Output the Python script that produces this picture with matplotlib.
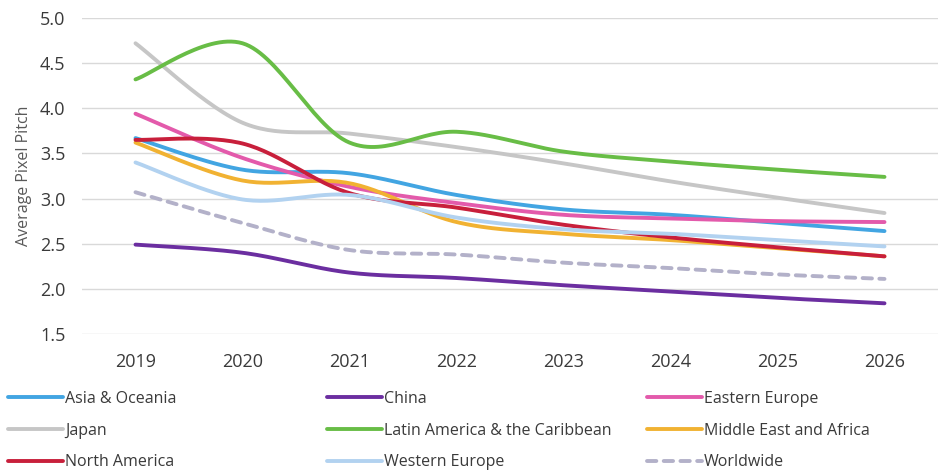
import numpy as np
import matplotlib
matplotlib.use("Agg")
from matplotlib import pyplot as plt

# Average pixel pitch by region, 2019-2026
years = ["2019", "2020", "2021", "2022", "2023", "2024", "2025", "2026"]

asia_oceania = [3.67, 3.32, 3.28, 3.04, 2.88, 2.82, 2.73, 2.64]
china = [2.49, 2.40, 2.18, 2.12, 2.04, 1.97, 1.90, 1.84]
eastern_europe = [3.94, 3.45, 3.13, 2.95, 2.82, 2.78, 2.75, 2.74]
japan = [4.72, 3.84, 3.72, 3.57, 3.39, 3.19, 3.01, 2.84]
latin_america = [4.32, 4.72, 3.62, 3.74, 3.52, 3.41, 3.32, 3.24]
middle_east_africa = [3.62, 3.20, 3.17, 2.74, 2.61, 2.54, 2.45, 2.36]
north_america = [3.65, 3.61, 3.06, 2.90, 2.71, 2.57, 2.46, 2.36]
western_europe = [3.40, 2.99, 3.04, 2.79, 2.66, 2.61, 2.54, 2.47]
worldwide = [3.07, 2.73, 2.43, 2.38, 2.29, 2.23, 2.16, 2.11]

SERIES = [
    ("Asia & Oceania", asia_oceania, "#42a5e2", "-"),
    ("China", china, "#6b2ea0", "-"),
    ("Eastern Europe", eastern_europe, "#e35aab", "-"),
    ("Japan", japan, "#c6c6c6", "-"),
    ("Latin America & the Caribbean", latin_america, "#68bd46", "-"),
    ("Middle East and Africa", middle_east_africa, "#f1b232", "-"),
    ("North America", north_america, "#c81f3b", "-"),
    ("Western Europe", western_europe, "#b2d2f0", "-"),
    ("Worldwide", worldwide, "#b3b1c9", "--"),
]

TEXT_COLOR = "#3a3a3a"
GRID_COLOR = "#d9d9d9"
LW = 2.8

plt.rcParams["font.family"] = ["Open Sans", "DejaVu Sans"]


def smooth(x, y, steps=30):
    """ Catmull-Rom curve through every point, like a spreadsheet's
    'smoothed line' option. """
    x = np.asarray(x, float)
    y = np.asarray(y, float)
    px = np.concatenate([[x[0]], x, [x[-1]]])
    py = np.concatenate([[y[0]], y, [y[-1]]])
    xs, ys = [], []
    t = np.linspace(0, 1, steps, endpoint=False)
    for i in range(1, len(px) - 2):
        for p, out in ((px, xs), (py, ys)):
            p0, p1, p2, p3 = p[i - 1], p[i], p[i + 1], p[i + 2]
            c1 = p1 + (p2 - p0) / 6.0
            c2 = p2 - (p3 - p1) / 6.0
            out.extend((1 - t) ** 3 * p1 + 3 * (1 - t) ** 2 * t * c1
                       + 3 * (1 - t) * t ** 2 * c2 + t ** 3 * p2)
    xs.append(x[-1])
    ys.append(y[-1])
    return np.array(xs), np.array(ys)


fig = plt.figure(figsize=(9.46, 4.71), dpi=100)
ax = fig.add_axes([82 / 946, 1 - 334 / 471, 856 / 946, 316 / 471])

pos = np.arange(len(years))
handles = []
for name, values, color, style in SERIES:
    sx, sy = smooth(pos, values)
    line, = ax.plot(sx, sy, color=color, lw=LW, linestyle=style,
                    solid_capstyle="round", dash_capstyle="round",
                    label=name)
    if style == "--":
        line.set_dashes((2.4, 1.9))
    handles.append(line)

ax.set_xlim(-0.5, len(years) - 0.5)
ax.set_ylim(1.5, 5.0)
ticks = np.arange(1.5, 5.01, 0.5)
ax.set_yticks(ticks)
ax.set_yticklabels(["{:.1f}".format(v) for v in ticks])
ax.set_xticks(pos)
ax.set_xticklabels(years)
ax.tick_params(axis="both", length=0, labelsize=13, colors=TEXT_COLOR)
ax.tick_params(axis="y", pad=12)
ax.tick_params(axis="x", pad=14)
ax.grid(axis="y", color=GRID_COLOR, lw=1.0)
ax.set_axisbelow(True)
for side in ("top", "right", "left", "bottom"):
    ax.spines[side].set_visible(False)

ax.set_ylabel("Average Pixel Pitch", fontsize=11.5, color="#595959",
              labelpad=6)

# Legend in three fixed columns, filled row by row
col_x = [8 / 946, 327 / 946, 647 / 946]
for c in range(3):
    col_handles = handles[c::3]
    leg = fig.legend(handles=col_handles,
                     labels=[h.get_label() for h in col_handles],
                     loc="upper left", bbox_to_anchor=(col_x[c], 1 - 391 / 471),
                     frameon=False, fontsize=11.5, handlelength=3.45,
                     handletextpad=0.12, labelspacing=0.98,
                     borderaxespad=0, borderpad=0)
    for t in leg.get_texts():
        t.set_color(TEXT_COLOR)

fig.savefig("out.png", dpi=100)
